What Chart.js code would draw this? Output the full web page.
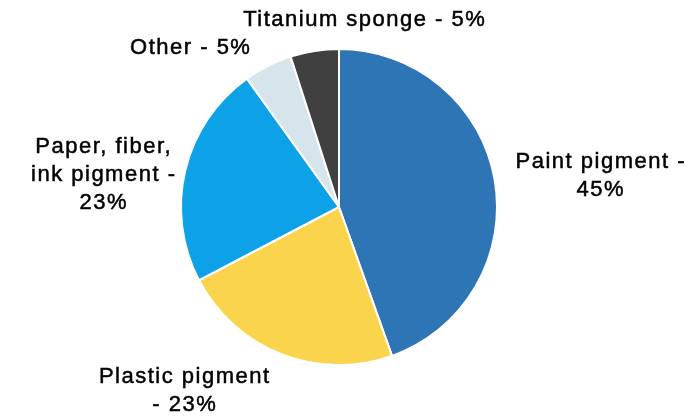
<!DOCTYPE html>
<html>
<head>
<meta charset="utf-8">
<script src="https://cdn.jsdelivr.net/npm/chart.js@4.4.0/dist/chart.umd.min.js"></script>
<style>
  html, body { margin: 0; padding: 0; background: #ffffff; }
  #wrap { width: 697px; height: 416px; position: relative; }
</style>
</head>
<body>
<div id="wrap"><canvas id="grafica"></canvas></div>
<script>
// datos del grafico
const categorias = ['Paint pigment', 'Plastic pigment', 'Paper, fiber, ink pigment', 'Other', 'Titanium sponge'];
const valores = [45, 23, 23, 5, 5];
const colores = ['#2E75B6', '#F9D44C', '#0DA2E7', '#D6E4EC', '#404040'];
// etiquetas tal como aparecen (lineas)
const etiquetas = [
    ['Paint pigment -', '45%'],
    ['Plastic pigment', '- 23%'],
    ['Paper, fiber,', 'ink pigment -', '23%'],
    ['Other - 5%'],
    ['Titanium sponge - 5%']
];
// posicion de cada etiqueta (centro de la primera linea)
const posEtiquetas = [[600, 162], [184, 377], [103, 147], [190, 48], [364, 20]];

const pluginEtiquetas = {
    id: 'etiquetas',
    afterDraw(chart) {
        const ctx = chart.ctx;
        ctx.save();
        ctx.font = '22px "Liberation Sans", Arial, sans-serif';
        ctx.letterSpacing = '1.5px';
        ctx.fillStyle = '#000000';
        ctx.strokeStyle = '#000000';
        ctx.lineWidth = 0.5;
        ctx.textAlign = 'center';
        ctx.textBaseline = 'middle';
        etiquetas.forEach((lineas, i) => {
            const [x, y] = posEtiquetas[i];
            lineas.forEach((t, j) => {
                ctx.fillText(t, x + 0.75, y + j * 28);
                ctx.strokeText(t, x + 0.75, y + j * 28);
            });
        });
        ctx.restore();
    }
};

const ctx = document.getElementById('grafica').getContext('2d');
new Chart(ctx, {
    type: 'pie',
    data: {
        labels: categorias,
        datasets: [{
            data: valores,
            backgroundColor: colores,
            borderColor: '#ffffff',
            borderWidth: 2
        }]
    },
    options: {
        responsive: true,
        maintainAspectRatio: false,
        animation: false,
        layout: { padding: { left: 180, right: 199, top: 48, bottom: 50 } },
        plugins: {
            legend: { display: false },
            tooltip: { enabled: false }
        }
    },
    plugins: [pluginEtiquetas]
});
</script>
</body>
</html>
